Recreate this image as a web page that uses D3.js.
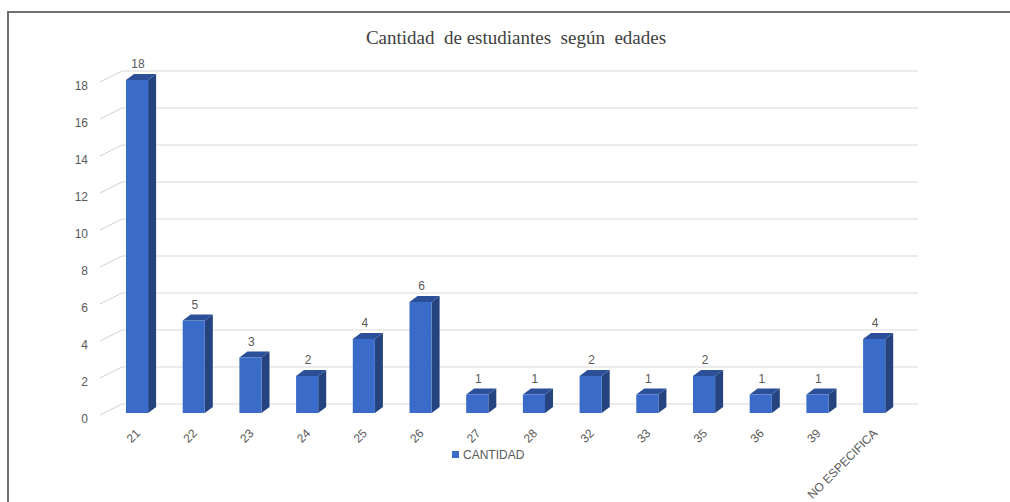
<!DOCTYPE html>
<html>
<head>
<meta charset="utf-8">
<script src="https://cdn.jsdelivr.net/npm/d3@7"></script>
<style>
  body { margin: 0; background: #fff; }
  svg { display: block; }
</style>
</head>
<body>
<div id="chart"></div>
<script>
var edades = ["21", "22", "23", "24", "25", "26", "27", "28", "32", "33", "35", "36", "39", "NO ESPECIFICA"];
var cantidad = [18, 5, 3, 2, 4, 6, 1, 1, 2, 1, 2, 1, 1, 4];
var y_ticks = [0, 2, 4, 6, 8, 10, 12, 14, 16, 18];
var serie = "CANTIDAD";
var titulo = "Cantidad  de estudiantes  según  edades";

var width = 1010, height = 502;
var grey_txt = "#595959";
var font = "'Liberation Sans', Arial, sans-serif";

var svg = d3.select("#chart").append("svg")
  .attr("width", width)
  .attr("height", height);

// marco
svg.append("rect")
  .attr("x", 8).attr("y", 12)
  .attr("width", 1020).attr("height", 520)
  .attr("fill", "none")
  .attr("stroke", "#6f6f6f")
  .attr("stroke-width", 2);

svg.append("text")
  .attr("x", 516).attr("y", 44)
  .attr("text-anchor", "middle")
  .attr("xml:space", "preserve")
  .style("white-space", "pre")
  .style("font-family", "'Liberation Serif', 'Times New Roman', serif")
  .style("font-size", "19px")
  .attr("fill", "#404040")
  .text(titulo);

// escalas: cara frontal de barras y pared de fondo
var x = d3.scaleBand()
  .domain(edades)
  .range([108.7, 902.5])
  .paddingInner(0.61)
  .paddingOuter(0.305);

var y_front = d3.scaleLinear().domain([0, 18]).range([413, 80]);
var y_wall = d3.scaleLinear().domain([0, 18]).range([404, 71]);

var wall_dx = 22, wall_dy = 11;   // profundidad del suelo
var bar_dx = 8, bar_dy = 6;       // profundidad de la barra

// lineas de cuadricula
var grid = svg.append("g");
grid.selectAll(".gl")
  .data(y_ticks)
  .enter().append("line")
  .attr("x1", 122).attr("x2", 918)
  .attr("y1", d => y_wall(d)).attr("y2", d => y_wall(d))
  .attr("stroke", "#d9d9d9")
  .attr("stroke-width", 1.2);

grid.selectAll(".diag")
  .data(y_ticks)
  .enter().append("line")
  .attr("x1", 122 - wall_dx).attr("x2", 122)
  .attr("y1", d => y_wall(d) + wall_dy).attr("y2", d => y_wall(d))
  .attr("stroke", "#d9d9d9")
  .attr("stroke-width", 1.2);

grid.selectAll(".ylab")
  .data(y_ticks)
  .enter().append("text")
  .attr("x", 88)
  .attr("y", d => y_wall(d) + 15)
  .attr("dy", "0.35em")
  .attr("text-anchor", "end")
  .style("font-family", font)
  .style("font-size", "12px")
  .attr("fill", grey_txt)
  .text(d => d);

// barras 3D
var bars = svg.append("g").selectAll("g")
  .data(edades.map((e, i) => ({ edad: e, v: cantidad[i] })))
  .enter().append("g");

bars.append("path")
  .attr("fill", "#25437f")
  .attr("d", function(d) {
    var x1 = x(d.edad) + x.bandwidth(), y0 = y_front(0), y1 = y_front(d.v);
    return "M" + x1 + "," + y0 + "L" + (x1 + bar_dx) + "," + (y0 - bar_dy) +
      "L" + (x1 + bar_dx) + "," + (y1 - bar_dy) + "L" + x1 + "," + y1 + "Z";
  });

bars.append("path")
  .attr("fill", "#2b4f98")
  .attr("d", function(d) {
    var x0 = x(d.edad), x1 = x0 + x.bandwidth(), y1 = y_front(d.v);
    return "M" + x0 + "," + y1 + "L" + (x0 + bar_dx) + "," + (y1 - bar_dy) +
      "L" + (x1 + bar_dx) + "," + (y1 - bar_dy) + "L" + x1 + "," + y1 + "Z";
  });

bars.append("rect")
  .attr("x", d => x(d.edad))
  .attr("y", d => y_front(d.v))
  .attr("width", x.bandwidth())
  .attr("height", d => y_front(0) - y_front(d.v))
  .attr("fill", "#3b6bc8");

bars.append("text")
  .attr("x", d => x(d.edad) + x.bandwidth() / 2 + 1)
  .attr("y", d => y_front(d.v) - 12)
  .attr("text-anchor", "middle")
  .style("font-family", font)
  .style("font-size", "12px")
  .attr("fill", grey_txt)
  .text(d => d.v);

// etiquetas del eje x
svg.append("g").selectAll("text")
  .data(edades)
  .enter().append("text")
  .attr("transform", d => "translate(" + (x(d) + x.bandwidth() / 2 + 1) + ",431) rotate(-45)")
  .attr("dy", "0.35em")
  .attr("text-anchor", "end")
  .style("font-family", font)
  .style("font-size", "12px")
  .attr("fill", grey_txt)
  .text(d => d);

// leyenda
var legend = svg.append("g");
legend.append("rect")
  .attr("x", 452).attr("y", 451)
  .attr("width", 7).attr("height", 7)
  .attr("fill", "#3b6bc8");
legend.append("text")
  .attr("x", 463).attr("y", 455)
  .attr("dy", "0.35em")
  .style("font-family", font)
  .style("font-size", "12px")
  .attr("fill", grey_txt)
  .text(serie);
</script>
</body>
</html>
